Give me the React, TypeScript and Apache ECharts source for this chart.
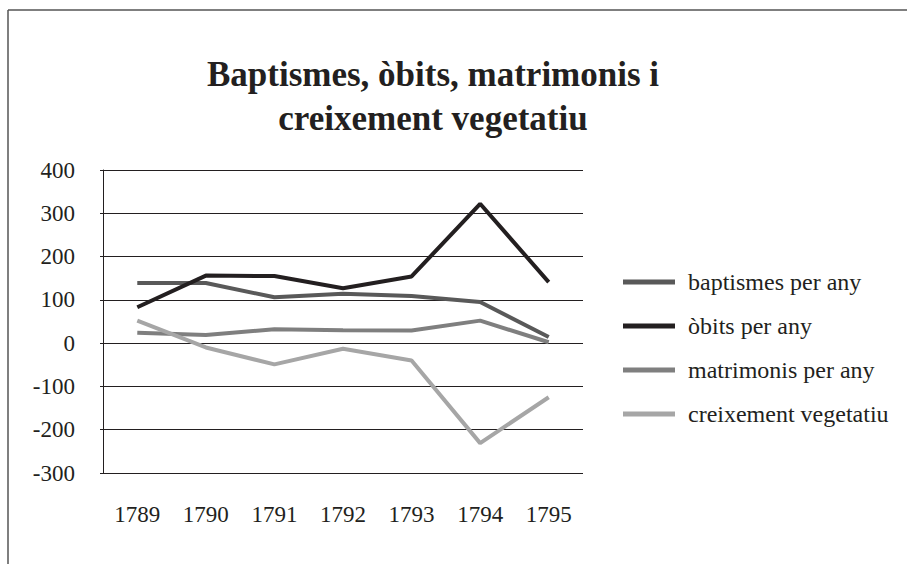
import React, { useEffect, useRef } from "react";
import * as echarts from "echarts";

const years = ["1789", "1790", "1791", "1792", "1793", "1794", "1795"];
const baptismes = [139, 139, 106, 114, 109, 95, 14];
const obits = [83, 156, 155, 127, 154, 322, 141];
const matrimonis = [24, 19, 32, 30, 29, 52, 2];
const creixement = [52, -10, -49, -13, -40, -231, -125];
const seriesNames = ["baptismes per any", "òbits per any", "matrimonis per any", "creixement vegetatiu"];
const seriesColors = ["#595959", "#231f20", "#7f7f7f", "#a6a6a6"];

const FONT = "'Liberation Serif', 'Times New Roman', serif";

export default function App() {
  const ref = useRef<HTMLDivElement>(null);
  useEffect(() => {
    if (!ref.current) return;
    const chart = echarts.init(ref.current, undefined, { renderer: "svg" });
    const data = [baptismes, obits, matrimonis, creixement];
    chart.setOption({
      animation: false,
      backgroundColor: "#ffffff",
      title: {
        text: "Baptismes, òbits, matrimonis i\ncreixement vegetatiu",
        left: 428,
        top: 47,
        textAlign: "center",
        textStyle: {
          fontFamily: FONT,
          fontWeight: "bold",
          fontSize: 35,
          lineHeight: 44,
          color: "#231f20",
        },
      },
      graphic: [
        { type: "line", shape: { x1: 8, y1: 10, x2: 907, y2: 10 }, style: { stroke: "#555", lineWidth: 1.5 } },
        { type: "line", shape: { x1: 8, y1: 10, x2: 8, y2: 564 }, style: { stroke: "#555", lineWidth: 1.5 } },
      ],
      legend: {
        orient: "vertical",
        left: 618,
        top: 265,
        icon: "rect",
        itemWidth: 52,
        itemHeight: 5,
        itemGap: 20,
        data: seriesNames,
        textStyle: {
          fontFamily: FONT,
          fontSize: 24,
          lineHeight: 24,
          color: "#231f20",
          padding: [0, 0, 0, 8],
        },
      },
      grid: { left: 103, right: 324, top: 170, bottom: 91 },
      xAxis: {
        type: "category",
        data: years,
        boundaryGap: true,
        axisLine: { show: false },
        axisTick: { show: false },
        axisLabel: { fontFamily: FONT, fontSize: 23, color: "#231f20", margin: 30 },
      },
      yAxis: {
        type: "value",
        min: -300,
        max: 400,
        interval: 100,
        axisLine: { show: true, lineStyle: { color: "#231f20", width: 1 } },
        axisTick: { show: true, length: 3, lineStyle: { color: "#231f20" } },
        splitLine: { show: true, lineStyle: { color: "#231f20", width: 1 } },
        axisLabel: { fontFamily: FONT, fontSize: 23, color: "#231f20", margin: 28 },
      },
      series: seriesNames.map((name, i) => ({
        name,
        type: "line",
        data: data[i],
        symbol: "none",
        lineStyle: { color: seriesColors[i], width: 4 },
        itemStyle: { color: seriesColors[i] },
      })),
    });
    return () => chart.dispose();
  }, []);
  return (
    <div
      ref={ref}
      style={{ position: "fixed", left: 0, top: 0, width: 907, height: 564 }}
    />
  );
}
